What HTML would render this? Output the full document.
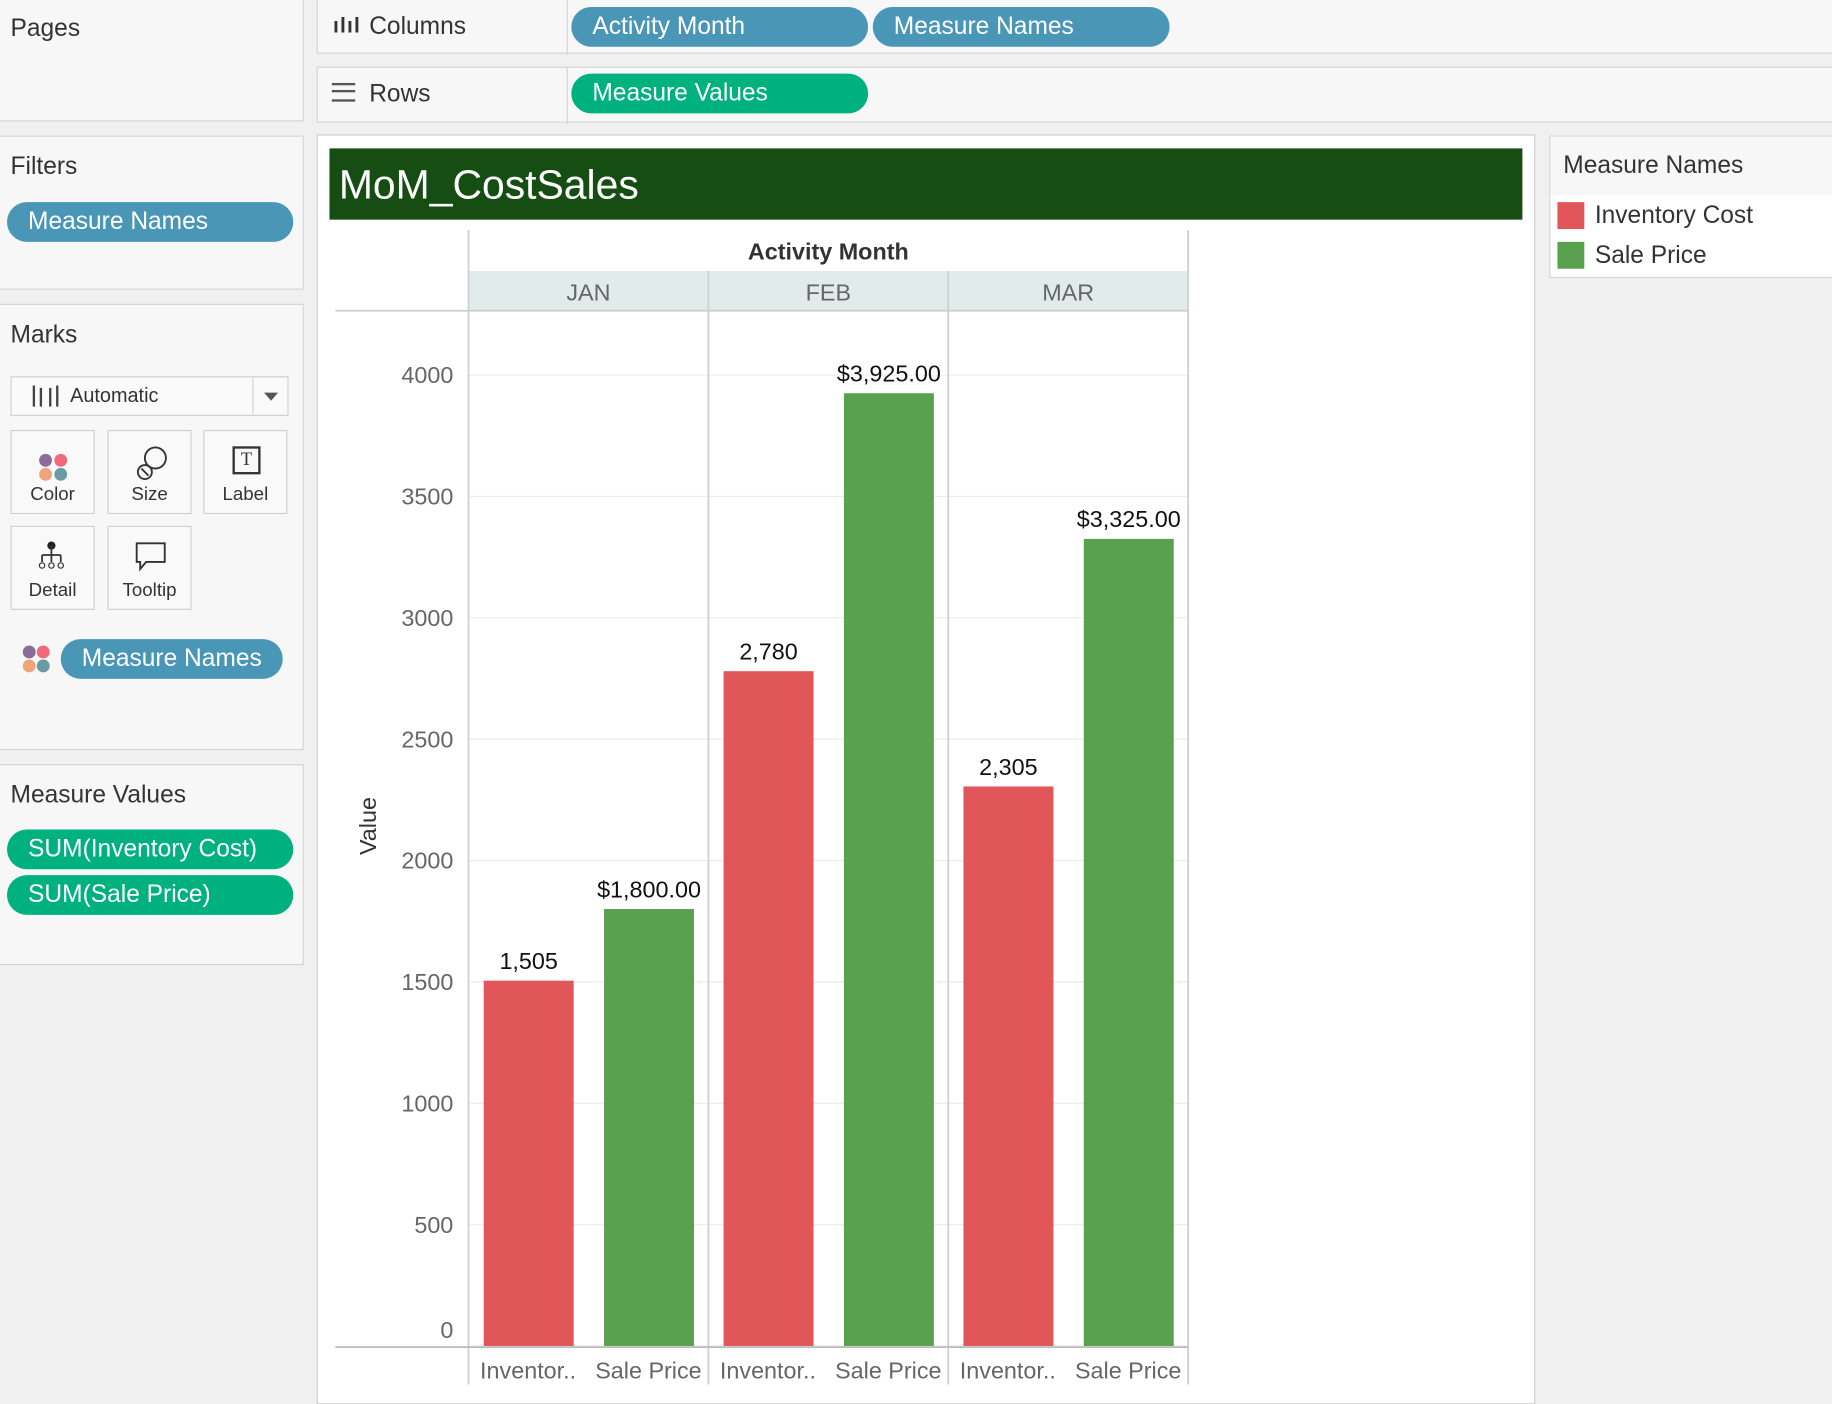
<!DOCTYPE html>
<html><head><meta charset="utf-8"><style>
html,body{margin:0;padding:0;width:1832px;height:1404px;overflow:hidden;background:#f0f0f0;font-family:"Liberation Sans",sans-serif;color:#333}
#root{position:absolute;left:0;top:0;width:1568px;height:1202px;transform:scale(1.16837);transform-origin:0 0;background:#f0f0f0}
.card{position:absolute;background:#f7f7f7;border:1px solid #d4d4d4;box-sizing:border-box}
.t{position:absolute;font-size:21px;color:#333}
.pill{position:absolute;height:34px;border-radius:17px;color:#fff;font-size:21px;line-height:34px;padding-left:18px;box-sizing:border-box}
.blue{background:#4a96b7}.green{background:#00b180}
.btn{position:absolute;width:72px;height:72px;border:1.5px solid #d0d0d0;box-sizing:border-box;background:#f9f9f9;font-size:16px;text-align:center}
.btn span{position:absolute;left:0;right:0;bottom:6px}
</style></head><body>
<div id="root">
<div class="card" style="left:-2px;top:-2px;width:262px;height:106px"><div class="t" style="left:10px;top:14px">Pages</div></div>
<div class="card" style="left:-2px;top:116px;width:262px;height:132px">
<div class="t" style="left:10px;top:14px">Filters</div>
<div class="pill blue" style="left:7px;top:56px;width:245px">Measure Names</div></div>
<div class="card" style="left:-2px;top:260px;width:262px;height:382px">
<div class="t" style="left:10px;top:14px">Marks</div>
<div style="position:absolute;left:10px;top:61px;width:238px;height:34px;border:1.5px solid #d0d0d0;box-sizing:border-box;background:#fafafa">
<div style="position:absolute;left:18px;top:7px;width:18px;height:18px;border-left:2px solid #444;border-right:2px solid #444"></div>
<div style="position:absolute;left:24px;top:9px;width:6px;height:16px;border-left:2px solid #444;border-right:2px solid #444"></div>
<div style="position:absolute;left:50px;top:6px;font-size:17px">Automatic</div>
<div style="position:absolute;left:206px;top:0;height:31px;border-left:1.5px solid #d0d0d0"></div>
<div style="position:absolute;left:216px;top:13px;border-left:6px solid transparent;border-right:6px solid transparent;border-top:7px solid #555"></div></div>
<div class="btn" style="left:10px;top:107px">
<svg width="72" height="40" style="position:absolute;left:0;top:8px"><circle cx="29" cy="17" r="5.5" fill="#8a6b9a"/><circle cx="42" cy="17" r="5.5" fill="#f06a7a"/><circle cx="29" cy="29" r="5.5" fill="#f0a47a"/><circle cx="42" cy="29" r="5.5" fill="#6a9aa6"/></svg><span>Color</span></div>
<div class="btn" style="left:93px;top:107px">
<svg width="72" height="40" style="position:absolute;left:0;top:8px"><circle cx="40" cy="15" r="9" fill="none" stroke="#333" stroke-width="1.6"/><circle cx="31" cy="27" r="6" fill="none" stroke="#333" stroke-width="1.6"/><line x1="28" y1="24" x2="34" y2="30" stroke="#333" stroke-width="1.6"/></svg><span>Size</span></div>
<div class="btn" style="left:175px;top:107px">
<div style="position:absolute;left:24px;top:13px;width:20px;height:20px;border:2px solid #333;font-size:16px;line-height:20px;font-family:'Liberation Serif',serif">T</div><span>Label</span></div>
<div class="btn" style="left:10px;top:189px">
<svg width="72" height="40" style="position:absolute;left:0;top:8px"><circle cx="34" cy="8" r="3.5" fill="#222"/><path d="M34 8v8M26 16h16M26 16v6M34 16v6M42 16v6" stroke="#333" stroke-width="1.5" fill="none"/><circle cx="26" cy="25" r="2.3" fill="none" stroke="#333"/><circle cx="34" cy="25" r="2.3" fill="none" stroke="#333"/><circle cx="42" cy="25" r="2.3" fill="none" stroke="#333"/></svg><span>Detail</span></div>
<div class="btn" style="left:93px;top:189px">
<svg width="72" height="40" style="position:absolute;left:0;top:8px"><path d="M24 6h24v16H32l-5 6v-6h-3z" fill="none" stroke="#333" stroke-width="1.6"/></svg><span>Tooltip</span></div>
<svg width="30" height="30" style="position:absolute;left:18px;top:288px"><circle cx="8" cy="9" r="5.5" fill="#8a6b9a"/><circle cx="20" cy="9" r="5.5" fill="#f06a7a"/><circle cx="8" cy="21" r="5.5" fill="#f0a47a"/><circle cx="20" cy="21" r="5.5" fill="#6a9aa6"/></svg>
<div class="pill blue" style="left:53px;top:286px;width:190px">Measure Names</div></div>
<div class="card" style="left:-2px;top:654px;width:262px;height:172px">
<div class="t" style="left:10px;top:14px">Measure Values</div>
<div class="pill green" style="left:7px;top:55px;width:245px">SUM(Inventory Cost)</div>
<div class="pill green" style="left:7px;top:94px;width:245px">SUM(Sale Price)</div></div>

<div class="card" style="left:271px;top:-2px;width:1300px;height:48px">
<div style="position:absolute;left:213px;top:0;height:48px;border-left:1px solid #d4d4d4"></div>
<div style="position:absolute;left:13px;top:13px;font-size:18px;font-weight:bold;letter-spacing:1px">ılıl</div>
<div class="t" style="left:44px;top:12px">Columns</div>
<div class="pill blue" style="left:217px;top:7px;width:254px">Activity Month</div>
<div class="pill blue" style="left:475px;top:7px;width:254px">Measure Names</div></div>
<div class="card" style="left:271px;top:57px;width:1300px;height:48px">
<div style="position:absolute;left:213px;top:0;height:48px;border-left:1px solid #d4d4d4"></div>
<div style="position:absolute;left:12px;top:13px;width:20px;height:12px;border-top:2px solid #555;border-bottom:2px solid #555"></div><div style="position:absolute;left:12px;top:19px;width:20px;border-top:2px solid #555"></div>
<div class="t" style="left:44px;top:11px">Rows</div>
<div class="pill green" style="left:217px;top:5px;width:254px">Measure Values</div></div>

<div class="card" style="left:1326px;top:116px;width:250px;height:122px;background:#fff">
<div style="position:absolute;left:0;top:0;width:250px;height:50px;background:#f7f7f7"></div>
<div class="t" style="left:11px;top:13px">Measure Names</div>
<div style="position:absolute;left:6px;top:56px;width:23px;height:23px;background:#e15759"></div>
<div class="t" style="left:38px;top:56px">Inventory Cost</div>
<div style="position:absolute;left:6px;top:90px;width:23px;height:23px;background:#59a14f"></div>
<div class="t" style="left:38px;top:90px">Sale Price</div></div>

<div style="position:absolute;left:271px;top:115px;width:1043px;height:1087px;background:#fff;border:1.5px solid #ccc;box-sizing:border-box"></div>
<div style="position:absolute;left:282px;top:127px;width:1021px;height:61px;background:#154d13;color:#fff;font-size:35px;line-height:64px;padding-left:8px;box-sizing:border-box">MoM_CostSales</div>
<svg id="chart" width="1568" height="1202" style="position:absolute;left:0;top:0"></svg>
</div>
<script>
const months=["JAN","FEB","MAR"];
const measures=["Inventor..","Sale Price"];
const inventoryCost=[1505,2780,2305];
const salePrice=[1800,3925,3325];
const inventoryLabels=["1,505","2,780","2,305"];
const saleLabels=["$1,800.00","$3,925.00","$3,325.00"];
const yTicks=[0,500,1000,1500,2000,2500,3000,3500,4000];
const colors=["#e15759","#59a14f"];
const svg=document.getElementById('chart');const NS="http://www.w3.org/2000/svg";
const y0=1152,yPer=831/4000,paneX0=401,paneW=205.3;
function y(v){return y0-v*yPer;}
function px(i){return paneX0+i*paneW;}
function el(t,a,txt){const e=document.createElementNS(NS,t);for(const k in a)e.setAttribute(k,a[k]);if(txt!==undefined)e.textContent=txt;svg.appendChild(e);return e;}
let e=el('rect',{x:px(0),y:232,width:paneW*3,height:34,fill:'#e1ecea'});

e=el('text',{x:px(0)+paneW*1.5,y:222,'text-anchor':'middle','font-size':20,'font-weight':'bold',fill:'#333'},'Activity Month');

yTicks.forEach(t=>{
 el('line',{x1:px(0),x2:px(3),y1:y(t),y2:y(t),stroke:'#ececec','stroke-width':1});
 e=el('text',{x:388,y:y(t)+7-(t===0?14:0),'text-anchor':'end','font-size':20,fill:'#666'},String(t));
 
});
e=el('text',{x:322,y:707,'text-anchor':'middle','font-size':20,fill:'#333',transform:'rotate(-90 322 707)'},'Value');

for(let i=0;i<=3;i++)el('line',{x1:px(i),x2:px(i),y1:(i===0||i===3)?197:232,y2:1185,stroke:'#cfcfcf','stroke-width':1.5});
el('line',{x1:287,x2:px(3),y1:266,y2:266,stroke:'#cfcfcf','stroke-width':1.5});
el('line',{x1:287,x2:px(3),y1:1153,y2:1153,stroke:'#bbb','stroke-width':1.5});
months.forEach((m,i)=>{
 e=el('text',{x:px(i)+paneW/2,y:257,'text-anchor':'middle','font-size':20,fill:'#666'},m);
 
 const vals=[inventoryCost[i],salePrice[i]],labs=[inventoryLabels[i],saleLabels[i]];
 vals.forEach((v,j)=>{
  const bx=px(i)+13+j*103;
  const b=el('rect',{x:bx,y:y(v),width:77,height:y0-y(v),fill:colors[j]});
  
  
  const l=el('text',{x:bx+38.5,y:y(v)-10,'text-anchor':'middle','font-size':20,fill:'#111'},labs[j]);
  
  
  const c=el('text',{x:px(i)+51+j*103,y:1180,'text-anchor':'middle','font-size':20,fill:'#666'},measures[j]);
  
  
 });
});
</script>
</body></html>
